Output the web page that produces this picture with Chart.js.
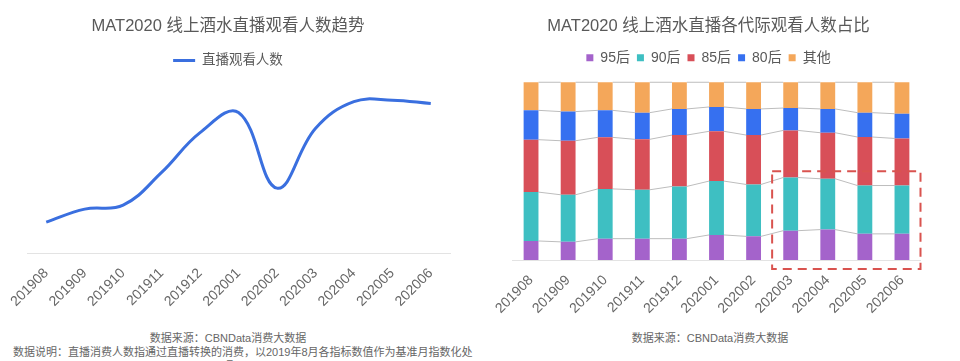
<!DOCTYPE html>
<html>
<head>
<meta charset="utf-8">
<script src="https://cdn.jsdelivr.net/npm/chart.js@4.4.0/dist/chart.umd.min.js"></script>
<style>
    body { margin: 0; width: 960px; height: 361px; overflow: hidden; background: #fff;
           font-family: "Liberation Sans", "Noto Sans CJK SC", sans-serif; }
    .box { position: absolute; top: 0; height: 320px; }
    .note { position: absolute; font-size: 11px; line-height: 14px; color: #666; white-space: nowrap; }
</style>
</head>
<body>
<div class="box" style="left:0;width:456px"><canvas id="trendChart"></canvas></div>
<div class="box" style="left:480px;width:457px"><canvas id="shareChart"></canvas></div>
<div class="note" style="left:0;width:456px;text-align:center;top:331px">数据来源：CBNData消费大数据</div>
<div class="note" style="left:13px;top:345px">数据说明：直播消费人数指通过直播转换的消费，以2019年8月各指标数值作为基准月指数化处</div>
<div class="note" style="left:0;width:456px;text-align:center;top:359px">理</div>
<div class="note" style="left:480px;width:460px;text-align:center;top:331px">数据来源：CBNData消费大数据</div>
<script>
// months shared by both charts
const months = ["201908", "201909", "201910", "201911", "201912", "202001",
                "202002", "202003", "202004", "202005", "202006"];

// live-stream viewers, index (201908 = 100)
const viewerIndex = [100, 142, 155, 261, 390, 455, 210, 403, 490, 495, 484];

// share of viewers by generation, %
const gen95 = [10.7, 10.2, 12.0, 12.0, 12.0, 14.1, 13.3, 16.5, 17.1, 14.7, 14.7];
const gen90 = [27.5, 26.5, 28.0, 27.5, 29.4, 30.3, 29.2, 29.9, 28.6, 27.2, 27.2];
const gen85 = [29.5, 30.4, 29.0, 28.4, 28.9, 28.0, 27.8, 26.5, 25.9, 27.3, 26.5];
const gen80 = [16.5, 16.4, 15.2, 15.0, 14.7, 13.7, 14.7, 12.6, 13.4, 13.7, 13.9];
const genOther = [15.8, 16.5, 15.8, 17.1, 15.0, 13.9, 15.0, 14.5, 15.0, 17.1, 17.7];

const highlightFrom = "202003";
const highlightTo = "202006";

Chart.defaults.font.family = '"Liberation Sans", "Noto Sans CJK SC", sans-serif';
Chart.defaults.color = "#595959";

const titleFont = { size: 16.5, weight: "normal" };
const tickOpts = { color: "#666", font: { size: 14 }, minRotation: 45, maxRotation: 45, padding: 4 };

// an invisible axis that only reserves room at a side of the plot
function spacer(position, width, extra) {
    return Object.assign({
        position: position,
        display: true,
        grid: { display: false },
        border: { display: false },
        ticks: { display: false },
        afterFit: function (axis) { axis.width = width; }
    }, extra);
}

// Trend line
new Chart(document.getElementById("trendChart"), {
    type: "line",
    data: {
        labels: months,
        datasets: [{
            label: "直播观看人数",
            data: viewerIndex,
            borderColor: "#3a6fdf",
            backgroundColor: "#3a6fdf",
            borderWidth: 3,
            tension: 0.4,
            pointRadius: 0,
            fill: false
        }]
    },
    options: {
        responsive: true,
        maintainAspectRatio: false,
        animation: false,
        plugins: {
            title: { display: true, text: "MAT2020 线上酒水直播观看人数趋势", color: "#595959",
                     font: titleFont, padding: { top: 17, bottom: 7 } },
            legend: {
                labels: { usePointStyle: true, pointStyle: "line", pointStyleWidth: 22, boxHeight: 13,
                          color: "#595959", font: { size: 13.5 }, padding: 10 }
            },
            tooltip: { enabled: false }
        },
        scales: {
            x: {
                offset: true,
                grid: { display: false },
                border: { color: "#e3e3e3" },
                ticks: tickOpts,
                afterFit: function (axis) { axis.height = 67; }
            },
            y: spacer("left", 27, { min: 0, max: 569 }),
            yr: spacer("right", 6, { type: "linear" })
        }
    }
});

// thin grey links between the stacked segments
const linkPlugin = {
    id: "links",
    beforeDatasetsDraw: function (chart) {
        const ctx = chart.ctx;
        ctx.save();
        ctx.strokeStyle = "#bdbdbd";
        ctx.lineWidth = 1;
        chart.data.datasets.forEach(function (ds, d) {
            const bars = chart.getDatasetMeta(d).data;
            for (let i = 0; i < bars.length - 1; i++) {
                const a = bars[i], b = bars[i + 1];
                ctx.beginPath();
                ctx.moveTo(a.x + a.width / 2, a.y);
                ctx.lineTo(b.x - b.width / 2, b.y);
                ctx.stroke();
            }
        });
        ctx.restore();
    }
};

// red dashed frame round the recent months
const framePlugin = {
    id: "frame",
    afterDraw: function (chart) {
        const x = chart.scales.x, y = chart.scales.y;
        const half = (x.getPixelForValue(1) - x.getPixelForValue(0)) / 2;
        const left = x.getPixelForValue(months.indexOf(highlightFrom)) - half;
        const right = x.getPixelForValue(months.indexOf(highlightTo)) + half;
        const top = y.getPixelForValue(50);
        const bottom = chart.chartArea.bottom + 9;
        const ctx = chart.ctx;
        ctx.save();
        ctx.strokeStyle = "#d9534f";
        ctx.lineWidth = 2;
        ctx.setLineDash([9, 6]);
        ctx.strokeRect(left, top, right - left, bottom - top);
        ctx.restore();
    }
};

new Chart(document.getElementById("shareChart"), {
    type: "bar",
    data: {
        labels: months,
        datasets: [
            { label: "95后", data: gen95, backgroundColor: "#a463cb" },
            { label: "90后", data: gen90, backgroundColor: "#3ebfc2" },
            { label: "85后", data: gen85, backgroundColor: "#d84f58" },
            { label: "80后", data: gen80, backgroundColor: "#3670f0" },
            { label: "其他", data: genOther, backgroundColor: "#f4a75a" }
        ]
    },
    options: {
        responsive: true,
        maintainAspectRatio: false,
        animation: false,
        categoryPercentage: 0.8,
        barPercentage: 0.5,
        plugins: {
            title: { display: true, text: "MAT2020 线上酒水直播各代际观看人数占比", color: "#595959",
                     font: titleFont, padding: { top: 17, bottom: 7 } },
            legend: {
                labels: { boxWidth: 7, boxHeight: 7, color: "#595959", font: { size: 14 }, padding: 7 }
            },
            tooltip: { enabled: false }
        },
        scales: {
            x: {
                stacked: true,
                grid: { display: false },
                border: { color: "#e3e3e3" },
                ticks: tickOpts,
                afterFit: function (axis) { axis.height = 60; }
            },
            y: spacer("left", 32.5, { stacked: true, min: 0, max: 104.2 }),
            yr: spacer("right", 16.5, { type: "linear" })
        }
    },
    plugins: [linkPlugin, framePlugin]
});
</script>
</body>
</html>
